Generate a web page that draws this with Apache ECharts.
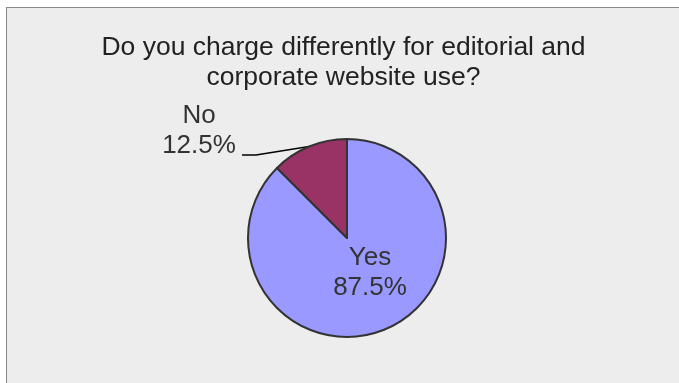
<!DOCTYPE html>
<html>
<head>
<meta charset="utf-8">
<script src="https://cdn.jsdelivr.net/npm/echarts@6/dist/echarts.min.js"></script>
<style>
  html, body { margin: 0; padding: 0; background: #ffffff; }
  #frame {
    position: absolute; left: 6px; top: 7px; width: 673px; height: 376px;
    background: #ededed; border-top: 1px solid #8a8a8a; border-left: 1px solid #8a8a8a;
  }
  #chart { width: 673px; height: 376px; }
</style>
</head>
<body>
<div id="frame"><div id="chart"></div></div>
<script>
const titleLines = ['Do you charge differently for editorial and', 'corporate website use?'];
const categories = ['Yes', 'No'];
const shares = [87.5, 12.5];
const sliceColors = ['#9999ff', '#993366'];

const chart = echarts.init(document.getElementById('chart'), null, { renderer: 'canvas' });

const pieData = categories.map((name, i) => ({
  name: name,
  value: shares[i],
  itemStyle: { color: sliceColors[i] }
}));

chart.setOption({
  backgroundColor: 'transparent',
  animation: false,
  title: {
    text: titleLines.join('\n'),
    left: 'center',
    top: 20,
    textStyle: {
      fontFamily: '"Liberation Sans", Arial, sans-serif',
      fontSize: 26.5,
      fontWeight: 'normal',
      color: '#222222',
      lineHeight: 30
    }
  },
  series: [{
    type: 'pie',
    center: [340, 230],
    radius: 99,
    startAngle: 90,
    clockwise: true,
    data: pieData,
    itemStyle: { borderColor: '#333333', borderWidth: 2 },
    label: {
      fontFamily: '"Liberation Sans", Arial, sans-serif',
      fontSize: 26,
      color: '#333333',
      lineHeight: 30,
      align: 'center',
      formatter: p => p.name + '\n' + p.value.toFixed(1) + '%'
    },
    labelLine: { lineStyle: { color: '#000000', width: 1.5 } },
    labelLayout: function (params) {
      if (params.dataIndex === 1) {
        // leader line: from the slice edge, down-left to the label's lower right corner
        const edge = params.labelLinePoints ? params.labelLinePoints[0] : [303, 139];
        return {
          x: 192, y: 123, align: 'center', verticalAlign: 'middle',
          labelLinePoints: [edge, [249, 147], [235, 147]]
        };
      }
      return { x: 363, y: 265, align: 'center', verticalAlign: 'middle' };
    },
    emphasis: { disabled: true }
  }]
});
</script>
</body>
</html>
